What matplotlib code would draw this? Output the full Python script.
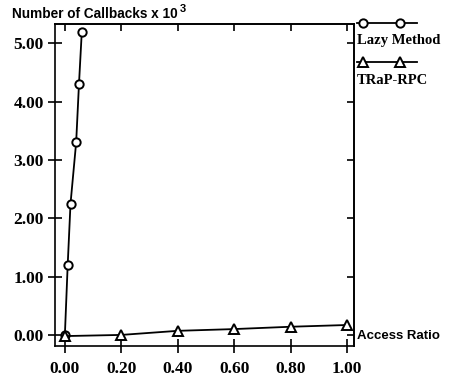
import matplotlib
matplotlib.use("Agg")
import matplotlib.pyplot as plt
from matplotlib.lines import Line2D

# Data
lazy_x = [0.0, 0.01, 0.02, 0.04, 0.05, 0.06]
lazy_y = [0.0, 1.20, 2.25, 3.30, 4.30, 5.20]
trap_x = [0.0, 0.20, 0.40, 0.60, 0.80, 1.00]
trap_y = [-0.02, 0.00, 0.07, 0.10, 0.14, 0.17]
xticks = [0.0, 0.2, 0.4, 0.6, 0.8, 1.0]
xticklabels = ["0.00", "0.20", "0.40", "0.60", "0.80", "1.00"]
yticks = [0, 1, 2, 3, 4, 5]
yticklabels = ["0.00", "1.00", "2.00", "3.00", "4.00", "5.00"]
series_labels = ["Lazy Method", "TRaP-RPC"]

serif = "Liberation Serif"
sans = "Liberation Sans"

fig = plt.figure(figsize=(4.53, 3.80), dpi=100)
ax = fig.add_axes([55/453, 1-346/380, 299/453, 322/380])

ax.plot(lazy_x, lazy_y, color="black", lw=1.3, marker="o", ms=6,
        mfc="white", mec="black", mew=1.4, zorder=3)
ax.plot(trap_x, trap_y, color="black", lw=1.3, marker="^", ms=7,
        mfc="white", mec="black", mew=1.4, zorder=4)

ax.set_xlim(-0.035, 1.025)
ax.set_ylim(-0.19, 5.33)
ax.set_xticks(xticks)
ax.set_xticklabels(xticklabels, fontfamily=serif, fontweight="bold", fontsize=12.5)
ax.set_yticks(yticks)
ax.set_yticklabels(yticklabels, fontfamily=serif, fontweight="bold", fontsize=12.5)
ax.tick_params(axis="both", direction="inout", length=10, width=1.2)
ax.tick_params(axis="x", pad=6)
ax.tick_params(axis="y", pad=3)
for spine in ax.spines.values():
    spine.set_linewidth(1.2)

# inward ticks on top and right
secx = ax.secondary_xaxis("top")
secx.set_xticks(xticks)
secx.tick_params(direction="in", length=5, width=1.2, labeltop=False)
secx.spines["top"].set_linewidth(1.2)
secy = ax.secondary_yaxis("right")
secy.set_yticks(yticks)
secy.tick_params(direction="in", length=5, width=1.2, labelright=False)
secy.spines["right"].set_linewidth(1.2)

# Legend drawn outside to the right
markers = ["o", "^"]
ys = [1.003, 0.882]
tys = [0.948, 0.826]
for m, y, ty, lab in zip(markers, ys, tys, series_labels):
    ln = Line2D([1.01, 1.21], [y, y], transform=ax.transAxes, color="black",
                lw=1.3, clip_on=False)
    ax.add_line(ln)
    mk = Line2D([1.03, 1.155], [y, y], transform=ax.transAxes, ls="none",
                marker=m, ms=6 if m == "o" else 7, mfc="white", mec="black",
                mew=1.4, clip_on=False)
    ax.add_line(mk)
    ax.text(1.01, ty, lab, transform=ax.transAxes, ha="left", va="center",
            fontfamily=serif, fontweight="bold", fontsize=10.5)

ax.text(1.01, 0.031, "Access Ratio", transform=ax.transAxes, ha="left",
        va="center", fontfamily=sans, fontweight="bold", fontsize=9.5)

fig.text(12/453, 1-18/380, "Number of Callbacks x 10", ha="left",
         va="baseline", fontfamily=sans, fontweight="bold", fontsize=9.8)
fig.text(180/453, 1-12/380, "3", ha="left", va="baseline",
         fontfamily=sans, fontweight="bold", fontsize=8)

fig.savefig("out.png", dpi=100)
